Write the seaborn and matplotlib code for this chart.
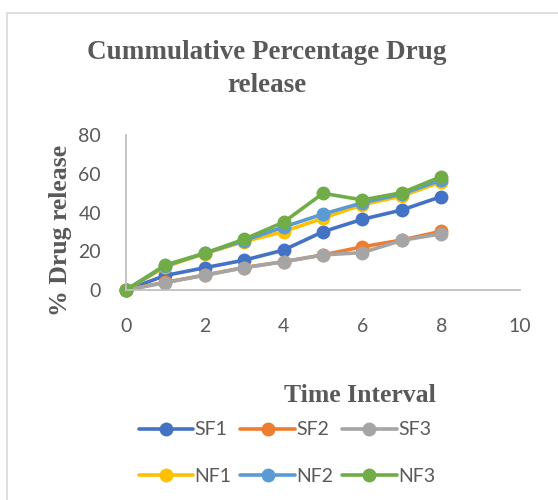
import numpy as np
import pandas as pd
import matplotlib
matplotlib.use("Agg")
import matplotlib.pyplot as plt
import seaborn as sns
from matplotlib.lines import Line2D
from matplotlib.patches import Rectangle
from matplotlib.font_manager import FontProperties

time = [0, 1, 2, 3, 4, 5, 6, 7, 8]
series_names = ["SF1", "SF2", "SF3", "NF1", "NF2", "NF3"]
sf1 = [0, 7.5, 11.5, 15.4, 20.6, 30.1, 36.5, 41.3, 48.2]
sf2 = [0, 4.0, 7.7, 11.6, 14.6, 18.1, 22.3, 25.8, 30.3]
sf3 = [0, 3.8, 7.6, 11.5, 14.6, 18.1, 19.3, 25.6, 29.0]
nf1 = [0, 12.0, 18.8, 25.0, 30.1, 37.1, 44.0, 48.5, 55.8]
nf2 = [0, 12.5, 19.0, 25.5, 32.5, 39.2, 45.0, 49.5, 56.8]
nf3 = [0, 12.9, 19.0, 26.2, 35.0, 49.9, 46.5, 50.2, 58.5]
colors = ["#4472C4", "#ED7D31", "#A5A5A5", "#FFC000", "#5B9BD5", "#70AD47"]

values = [sf1, sf2, sf3, nf1, nf2, nf3]
df = pd.DataFrame({
    "Time": np.tile(time, len(series_names)),
    "Release": np.concatenate(values),
    "Series": np.repeat(series_names, len(time)),
})

sns.set_theme(style="white")
plt.rcParams["font.family"] = ["Lato", "DejaVu Sans"]

fig = plt.figure(figsize=(5.58, 5.0), dpi=100)
ax = fig.add_axes([126/558, 1-290/500, (520-126)/558, (290-135)/500])

sns.lineplot(data=df, x="Time", y="Release", hue="Series", hue_order=series_names,
             palette=colors, marker="o", markersize=10, markeredgewidth=0,
             linewidth=2.6, ax=ax, legend=False)

ax.set_xlim(0, 10)
ax.set_ylim(0, 80)
ax.set_xticks([0, 2, 4, 6, 8, 10])
ax.set_yticks([0, 20, 40, 60, 80])
for s in ["top", "right"]:
    ax.spines[s].set_visible(False)
ax.spines["left"].set_color("#BFBFBF")
ax.spines["bottom"].set_color("#BFBFBF")
ax.spines["left"].set_linewidth(1.3)
ax.spines["bottom"].set_linewidth(1.3)
ax.tick_params(axis="both", length=0, labelsize=14, colors="#595959")
ax.tick_params(axis="x", pad=20)
ax.tick_params(axis="y", pad=18)
for line in ax.lines:
    line.set_clip_on(False)

ax.set_xlabel("")
ax.set_ylabel("")

serif = ["Liberation Serif", "DejaVu Serif"]
fig.text(0.478, 1-69/500, "Cummulative Percentage Drug\nrelease", ha="center", va="center",
         fontsize=19.5, fontweight="bold", color="#595959", family=serif, linespacing=1.45)
fig.text(60/558, 1-230/500, "% Drug release", ha="center", va="center", rotation=90,
         fontsize=18.5, fontweight="bold", color="#595959", family=serif)
fig.text(360/558, 1-395/500, "Time Interval", ha="center", va="center",
         fontsize=18.5, fontweight="bold", color="#595959", family=serif)

handles = [Line2D([0], [0], color=c, lw=2.6, marker="o", markersize=10, markeredgewidth=0)
           for c in colors]
order = [0, 3, 1, 4, 2, 5]
fig.legend([handles[i] for i in order], [series_names[i] for i in order],
           loc="center", bbox_to_anchor=(287/558, 1-453/500),
           ncol=3, frameon=False, prop=FontProperties(family="Lato", size=14),
           labelcolor="#595959",
           handlelength=2.8, handletextpad=0.08, columnspacing=0.45, labelspacing=1.5)

fig.patches.append(Rectangle((7/558, -0.1), 1.2, 1-13/500+0.1, transform=fig.transFigure,
                             fill=False, edgecolor="#D9D9D9", linewidth=1.2))

fig.savefig("out.png", dpi=100)
